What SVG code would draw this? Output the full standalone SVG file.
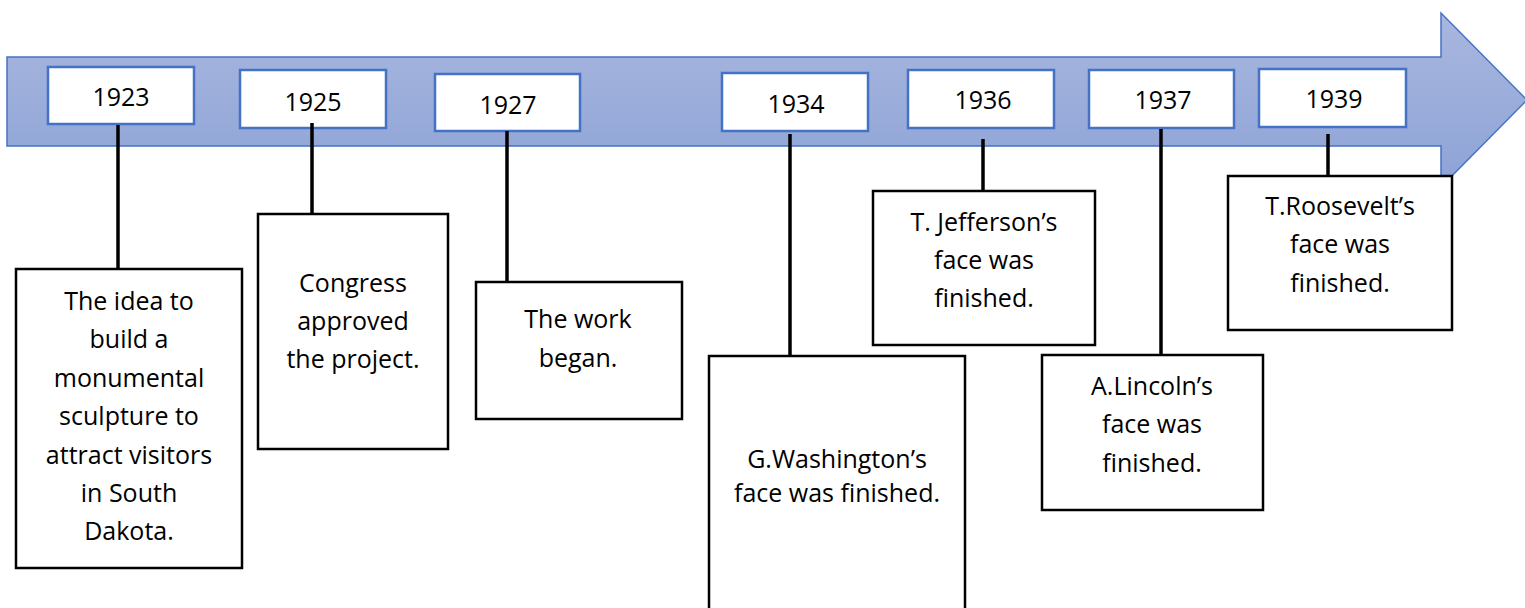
<svg xmlns="http://www.w3.org/2000/svg" width="1525" height="608" viewBox="0 0 1525 608">
<defs>
<linearGradient id="g" x1="0" y1="0" x2="0" y2="1">
<stop offset="0" stop-color="#a9b7df"/>
<stop offset="1" stop-color="#8da3d6"/>
</linearGradient>
</defs>
<style>
.yr{fill:#fff;stroke:#4472c4;stroke-width:2.5}
.bx{fill:#fff;stroke:#000;stroke-width:2.5}
.t{font-family:"Open Sans","Liberation Sans",sans-serif;font-size:25px;fill:#000;text-anchor:middle}
.c{stroke:#000;stroke-width:3.5;fill:none}
</style>
<g id="arrow">
<polygon points="7,57 1441,57 1441,13 1527,100 1441,187 1441,146 7,146" fill="url(#g)" stroke="#4472c4" stroke-width="1.5"/>
</g>
<g id="years">
<g id="y1923"><rect class="yr" x="48" y="67" width="146" height="57"/><text class="t" x="121" y="106">1923</text></g>
<g id="y1925"><rect class="yr" x="240" y="70" width="146" height="58"/><text class="t" x="313" y="111">1925</text></g>
<g id="y1927"><rect class="yr" x="435" y="74" width="145" height="57"/><text class="t" x="508" y="114">1927</text></g>
<g id="y1934"><rect class="yr" x="722" y="73" width="146" height="58"/><text class="t" x="796" y="113">1934</text></g>
<g id="y1936"><rect class="yr" x="908" y="70" width="146" height="58"/><text class="t" x="983" y="109">1936</text></g>
<g id="y1937"><rect class="yr" x="1089" y="70" width="145" height="58"/><text class="t" x="1163" y="109">1937</text></g>
<g id="y1939"><rect class="yr" x="1259" y="69" width="147" height="58"/><text class="t" x="1334" y="108">1939</text></g>
</g>
<g id="connectors">
<line class="c" x1="118" y1="125" x2="118" y2="269"/>
<line class="c" x1="312" y1="123" x2="312" y2="214"/>
<line class="c" x1="507" y1="131" x2="507" y2="282"/>
<line class="c" x1="790" y1="134" x2="790" y2="356"/>
<line class="c" x1="983" y1="139" x2="983" y2="191"/>
<line class="c" x1="1161" y1="129" x2="1161" y2="355"/>
<line class="c" x1="1328" y1="134" x2="1328" y2="176"/>
</g>
<g id="e1923"><rect class="bx" x="16" y="269" width="226" height="299"/>
<text class="t"><tspan x="129" y="310">The idea to</tspan><tspan x="129" y="348">build a</tspan><tspan x="129" y="387">monumental</tspan><tspan x="129" y="425">sculpture to</tspan><tspan x="129" y="464">attract visitors</tspan><tspan x="129" y="502">in South</tspan><tspan x="129" y="540">Dakota.</tspan></text></g>
<g id="e1925"><rect class="bx" x="258" y="214" width="190" height="235"/>
<text class="t"><tspan x="353" y="292">Congress</tspan><tspan x="353" y="330">approved</tspan><tspan x="353" y="368">the project.</tspan></text></g>
<g id="e1927"><rect class="bx" x="476" y="282" width="206" height="137"/>
<text class="t"><tspan x="578" y="328">The work</tspan><tspan x="578" y="367">began.</tspan></text></g>
<g id="e1934"><rect class="bx" x="709" y="356" width="256" height="270"/>
<text class="t"><tspan x="837" y="468">G.Washington’s</tspan><tspan x="837" y="502">face was finished.</tspan></text></g>
<g id="e1936"><rect class="bx" x="873" y="191" width="222" height="154"/>
<text class="t"><tspan x="984" y="231">T. Jefferson’s</tspan><tspan x="984" y="269">face was</tspan><tspan x="984" y="307">finished.</tspan></text></g>
<g id="e1937"><rect class="bx" x="1042" y="355" width="221" height="155"/>
<text class="t"><tspan x="1152" y="395">A.Lincoln’s</tspan><tspan x="1152" y="433">face was</tspan><tspan x="1152" y="472">finished.</tspan></text></g>
<g id="e1939"><rect class="bx" x="1228" y="176" width="224" height="154"/>
<text class="t"><tspan x="1340" y="215">T.Roosevelt’s</tspan><tspan x="1340" y="253">face was</tspan><tspan x="1340" y="292">finished.</tspan></text></g>
</svg>
